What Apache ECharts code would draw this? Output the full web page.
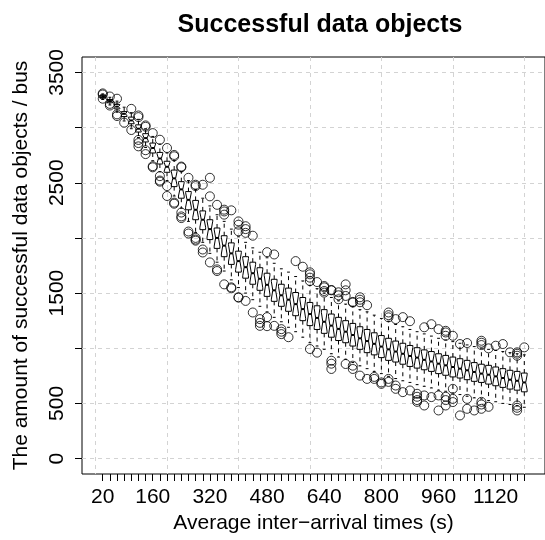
<!DOCTYPE html>
<html>
<head>
<meta charset="utf-8">
<script src="https://cdn.jsdelivr.net/npm/echarts@6/dist/echarts.min.js"></script>
<style>
  html, body { margin: 0; padding: 0; background: #fff; }
  #main { width: 545px; height: 540px; }
</style>
</head>
<body>
<div id="main"></div>
<script>
// categories: average inter-arrival time (s)
const categories = [20, 40, 60, 80, 100, 120, 140, 160, 180, 200,
  220, 240, 260, 280, 300, 320, 340, 360, 380, 400,
  420, 440, 460, 480, 500, 520, 540, 560, 580, 600,
  620, 640, 660, 680, 700, 720, 740, 760, 780, 800,
  820, 840, 860, 880, 900, 920, 940, 960, 980, 1000,
  1020, 1040, 1060, 1080, 1100, 1120, 1140, 1160, 1180, 1200];
const xLabelCats = [20, 160, 320, 480, 640, 800, 960, 1120];
const xGridAt = [0, 10, 20, 30, 40, 50, 60];
const yTicks = [0, 500, 1000, 1500, 2000, 2500, 3000, 3500];
const yLabels = [0, 500, 1500, 2500, 3500];

// box statistics
const whiskerLow = [3255, 3205, 3140, 3060, 2990, 2910, 2820, 2700, 2600, 2520,
  2380, 2270, 2150, 2050, 1960, 1860, 1780, 1700, 1620, 1550,
  1500, 1440, 1380, 1330, 1280, 1240, 1190, 1150, 1100, 1050,
  1020, 990, 950, 920, 900, 870, 840, 815, 790, 770,
  745, 725, 705, 690, 670, 655, 640, 620, 610, 595,
  580, 565, 550, 540, 525, 515, 500, 490, 480, 465];
const q1 = [3270, 3225, 3170, 3100, 3035, 2960, 2870, 2770, 2670, 2595,
  2465, 2360, 2255, 2165, 2075, 1985, 1905, 1830, 1760, 1690,
  1635, 1580, 1525, 1470, 1425, 1380, 1335, 1295, 1250, 1205,
  1170, 1135, 1100, 1070, 1050, 1020, 990, 960, 940, 915,
  890, 875, 855, 835, 820, 805, 790, 770, 755, 740,
  730, 715, 700, 690, 675, 660, 645, 630, 620, 605];
const median = [3280, 3240, 3190, 3125, 3065, 2990, 2905, 2815, 2720, 2645,
  2540, 2440, 2345, 2255, 2165, 2080, 2000, 1930, 1860, 1790,
  1735, 1680, 1630, 1575, 1525, 1480, 1440, 1400, 1355, 1310,
  1275, 1240, 1205, 1175, 1150, 1120, 1090, 1065, 1040, 1015,
  990, 970, 950, 930, 915, 895, 880, 860, 845, 830,
  815, 800, 785, 770, 760, 745, 730, 715, 705, 690];
const q3 = [3290, 3255, 3210, 3145, 3095, 3025, 2945, 2860, 2775, 2695,
  2615, 2510, 2420, 2340, 2245, 2165, 2090, 2020, 1955, 1880,
  1830, 1780, 1730, 1680, 1625, 1580, 1545, 1505, 1460, 1415,
  1385, 1350, 1310, 1280, 1250, 1225, 1195, 1170, 1140, 1115,
  1090, 1065, 1045, 1025, 1005, 985, 970, 950, 935, 920,
  905, 890, 870, 855, 845, 830, 815, 800, 790, 775];
const whiskerHigh = [3305, 3275, 3240, 3185, 3135, 3075, 2990, 2920, 2850, 2770,
  2700, 2600, 2520, 2440, 2360, 2290, 2210, 2150, 2080, 2010,
  1960, 1910, 1870, 1820, 1770, 1720, 1690, 1650, 1610, 1570,
  1540, 1500, 1460, 1430, 1400, 1380, 1350, 1330, 1300, 1270,
  1245, 1215, 1195, 1170, 1150, 1130, 1110, 1090, 1075, 1060,
  1045, 1030, 1015, 1000, 990, 980, 970, 960, 950, 940];
// outliers: [category, value]
const outliers = [
  [20, 3310], [20, 3300], [20, 3262], [40, 3282], [40, 3215], [40, 3200],
  [60, 3262], [60, 3120], [60, 3105], [80, 3045], [100, 3170], [100, 2978],
  [120, 3110], [120, 3095], [120, 2888], [120, 2860], [120, 2830],
  [140, 3020], [140, 3008], [140, 2795], [140, 2760],
  [160, 2950], [160, 2650], [160, 2640],
  [180, 2890], [180, 2560], [180, 2520], [180, 2510],
  [200, 2815], [200, 2470], [200, 2380],
  [220, 2752], [220, 2740], [220, 2320], [220, 2310],
  [240, 2647], [240, 2640], [240, 2230], [240, 2195], [240, 2180],
  [260, 2545], [260, 2058], [260, 2040],
  [280, 2482], [280, 2470], [280, 2000], [280, 1985], [280, 1975],
  [300, 2482], [300, 1895], [300, 1868],
  [320, 2545], [320, 2377], [320, 1778],
  [340, 2300], [340, 1715], [340, 1700],
  [360, 2256], [360, 2240], [360, 2211], [360, 1579],
  [380, 2250], [380, 1552], [380, 1543],
  [400, 2150], [400, 2120], [400, 2060], [400, 1462], [400, 1459],
  [420, 2106], [420, 2080], [420, 2046], [420, 1429],
  [440, 2020], [440, 1324],
  [460, 1264], [460, 1230], [460, 1203],
  [480, 1871], [480, 1282], [480, 1200],
  [500, 1850], [500, 1203],
  [520, 1173], [520, 1150], [520, 1128],
  [540, 1100], [560, 1790], [580, 1739],
  [600, 1688], [600, 1670], [600, 1640], [600, 1609], [600, 993],
  [620, 1600], [620, 960],
  [640, 1564], [640, 1552], [640, 1519], [640, 1504],
  [660, 1528], [660, 1525], [660, 887], [660, 860], [660, 812],
  [680, 1507], [680, 1480], [680, 1444],
  [700, 1579], [700, 1525], [700, 1474], [700, 857],
  [720, 1420], [720, 1414], [720, 842], [720, 812],
  [740, 1462], [740, 1440], [740, 1417], [740, 752],
  [760, 1390], [760, 722], [780, 740], [780, 722], [800, 690], [800, 677],
  [820, 1324], [820, 1300], [820, 1280], [820, 722], [820, 695],
  [840, 1264], [840, 662], [840, 632], [860, 1282], [860, 602],
  [880, 1245], [880, 617], [900, 587], [900, 560], [900, 530], [900, 514],
  [920, 1190], [920, 572], [920, 481], [940, 1218], [940, 557],
  [960, 1173], [960, 572], [960, 436],
  [980, 1158], [980, 1143], [980, 1113], [980, 560], [980, 530], [980, 481],
  [1000, 1113], [1000, 632], [1000, 541], [1000, 512],
  [1020, 1038], [1020, 391], [1040, 1047], [1040, 541], [1040, 451],
  [1060, 436], [1080, 1068], [1080, 1050], [1080, 1029], [1080, 514], [1080, 490], [1080, 451],
  [1100, 999], [1100, 469], [1120, 1023], [1140, 1038], [1160, 963],
  [1180, 963], [1180, 950], [1180, 932], [1180, 481], [1180, 460], [1180, 436],
  [1200, 1008]
];

const pos = c => categories.indexOf(c) + 1;
const boxData = categories.map((c, i) => [i + 1, whiskerLow[i], q1[i], median[i], q3[i], whiskerHigh[i]]);
const outlierData = outliers.map(o => [pos(o[0]), o[1]]);

const font = 'Liberation Sans, Arial, Helvetica, sans-serif';
const gridLine = { show: true, lineStyle: { color: '#d3d3d3', type: [4, 4], width: 1 } };

function renderBox(params, api) {
  const x = api.value(0);
  const lo = api.value(1), a = api.value(2), m = api.value(3), b = api.value(4), hi = api.value(5);
  const half = api.size([0.8, 0])[0] / 2;
  const nv = Math.min(0.4 * (b - a), m - a, b - m);
  const cx = api.coord([x, m])[0];
  const y = v => api.coord([x, v])[1];
  const solid = { stroke: '#000', lineWidth: 1 };
  const dashed = { stroke: '#000', lineWidth: 1, lineDash: [4, 4] };
  return {
    type: 'group',
    children: [
      { type: 'line', shape: { x1: cx, y1: y(b), x2: cx, y2: y(hi) }, style: dashed },
      { type: 'line', shape: { x1: cx, y1: y(a), x2: cx, y2: y(lo) }, style: dashed },
      { type: 'line', shape: { x1: cx - half / 2, y1: y(hi), x2: cx + half / 2, y2: y(hi) }, style: solid },
      { type: 'line', shape: { x1: cx - half / 2, y1: y(lo), x2: cx + half / 2, y2: y(lo) }, style: solid },
      {
        type: 'polygon',
        shape: {
          points: [
            [cx - half, y(a)], [cx - half, y(m - nv)], [cx - half / 2, y(m)], [cx - half, y(m + nv)], [cx - half, y(b)],
            [cx + half, y(b)], [cx + half, y(m + nv)], [cx + half / 2, y(m)], [cx + half, y(m - nv)], [cx + half, y(a)]
          ]
        },
        style: { fill: '#fff', stroke: '#000', lineWidth: 1 }
      },
      { type: 'line', shape: { x1: cx - half / 2, y1: y(m), x2: cx + half / 2, y2: y(m) }, style: { stroke: '#000', lineWidth: 2 } }
    ]
  };
}

const chart = echarts.init(document.getElementById('main'));
chart.setOption({
  animation: false,
  backgroundColor: '#fff',
  title: {
    text: 'Successful data objects',
    left: 315,
    top: 8,
    textAlign: 'center',
    textStyle: { fontFamily: font, fontSize: 25, fontWeight: 'bold', color: '#000' }
  },
  grid: { left: 82, top: 57, width: 466, height: 417, show: true, borderColor: '#000', borderWidth: 1, backgroundColor: 'transparent' },
  xAxis: [
    {
      type: 'value', min: -1.9, max: 62.9, position: 'bottom',
      name: 'Average inter\u2212arrival times (s)', nameLocation: 'middle', nameGap: 38,
      nameTextStyle: { fontFamily: font, fontSize: 21, color: '#000' },
      axisLine: { show: false, onZero: false },
      axisTick: { show: true, length: 7, customValues: categories.map(pos), lineStyle: { color: '#000' } },
      axisLabel: { customValues: xLabelCats.map(pos), formatter: v => String(categories[v - 1]), margin: 13, fontFamily: font, fontSize: 21, color: '#000' },
      splitLine: { show: false }
    },
    {
      type: 'value', min: -1.9, max: 62.9, position: 'bottom',
      axisLine: { show: false, onZero: false },
      axisTick: { show: false, customValues: xGridAt },
      axisLabel: { show: false },
      splitLine: gridLine
    }
  ],
  yAxis: {
    type: 'value', min: -140, max: 3640,
    name: 'The amount of successful data objects / bus', nameLocation: 'middle', nameGap: 50, nameRotate: 90,
    nameTextStyle: { fontFamily: font, fontSize: 21, color: '#000' },
    axisLine: { show: false, onZero: false },
    axisTick: { show: true, length: 7, customValues: yTicks, lineStyle: { color: '#000' } },
    axisLabel: { customValues: yLabels, rotate: 90, margin: 14, formatter: v => String(v), fontFamily: font, fontSize: 21, color: '#000' },
    splitLine: gridLine
  },
  series: [
    {
      type: 'custom',
      xAxisIndex: 0,
      renderItem: renderBox,
      encode: { x: 0, y: [1, 2, 3, 4, 5] },
      data: boxData,
      z: 3
    },
    {
      type: 'scatter',
      xAxisIndex: 0,
      symbol: 'circle',
      symbolSize: 9,
      itemStyle: { color: 'rgba(0,0,0,0)', borderColor: '#000', borderWidth: 1 },
      data: outlierData,
      z: 4
    }
  ]
});
</script>
</body>
</html>
